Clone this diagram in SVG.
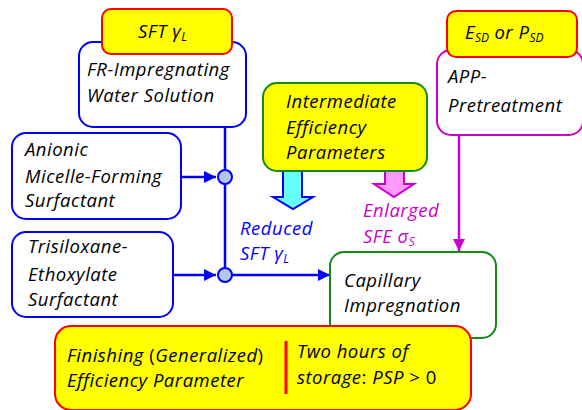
<svg xmlns="http://www.w3.org/2000/svg" width="582" height="410" viewBox="0 0 582 410">
  <defs>
    <style>
      .t { font-family: "Open Sans", "Noto Sans", "Liberation Sans", sans-serif; font-style: italic; font-size: 18.5px; letter-spacing: 0.5px; fill: #000; }
      .up { font-style: normal; }
      .sub { font-size: 12px; letter-spacing: 0; }
      .blue { fill: #0000ff; }
      .mag { fill: #cc00cc; }
      .bx { fill: #fff; stroke-width: 2; }
      .bx-b { stroke: #0000ff; }
      .bx-g { stroke: #138a13; }
      .bx-m { stroke: #cc00cc; }
      .tag { fill: #ffff00; stroke: #ff0000; stroke-width: 2; }
      .link { fill: none; stroke: #0000ff; stroke-width: 2.5; }
      .join { fill: #b4c7e7; stroke: #0000ff; stroke-width: 2; }
    </style>
    <marker id="ah-b" viewBox="0 0 10 10" refX="10" refY="5" markerWidth="5" markerHeight="5" orient="auto" markerUnits="strokeWidth">
      <path d="M0,0 L10,5 L0,10 z" fill="#0000ff"/>
    </marker>
    <marker id="ah-m" viewBox="0 0 10 10" refX="10" refY="5" markerWidth="5" markerHeight="5" orient="auto" markerUnits="strokeWidth">
      <path d="M0,0 L10,5 L0,10 z" fill="#cc00cc"/>
    </marker>
  </defs>

  <rect width="582" height="410" fill="#fff"/>

  <!-- connectors -->
  <g id="connectors">
    <line class="link" x1="225" y1="127" x2="225" y2="275"/>
    <line class="link" x1="181" y1="177" x2="216" y2="177" marker-end="url(#ah-b)"/>
    <line class="link" x1="173" y1="275" x2="216" y2="275" marker-end="url(#ah-b)"/>
    <line class="link" x1="232" y1="275" x2="330" y2="275" marker-end="url(#ah-b)"/>
    <line x1="459" y1="135" x2="459" y2="251" stroke="#cc00cc" stroke-width="2.5" marker-end="url(#ah-m)"/>
    <circle class="join" cx="225" cy="177" r="7"/>
    <circle class="join" cx="225" cy="275" r="7"/>
    <!-- block arrows below the intermediate box -->
    <path d="M283,167 H302 V197 H313 L293,209 L273,197 H283 Z" fill="#66ffff" stroke="#0000ff" stroke-width="2" stroke-linejoin="miter"/>
    <path d="M385,167 H404 V184 H414 L394,197 L374,184 H385 Z" fill="#ff99ff" stroke="#cc00cc" stroke-width="2"/>
    <text class="t blue" x="240" y="235">Reduced</text>
    <text class="t blue" x="240" y="260">SFT γ<tspan class="sub" dy="3">L</tspan></text>
    <text class="t mag" x="363" y="217">Enlarged</text>
    <text class="t mag" x="363" y="243">SFE σ<tspan class="sub" dy="3">S</tspan></text>
  </g>

  <g id="fr-solution">
    <rect class="bx bx-b" x="79" y="42" width="167" height="85" rx="14"/>
    <text class="t" x="87" y="76">FR-Impregnating</text>
    <text class="t" x="87" y="102">Water Solution</text>
  </g>

  <g id="sft-tag">
    <rect class="tag" x="102" y="9" width="130" height="45" rx="9"/>
    <text class="t" x="138" y="38">SFT γ<tspan class="sub" dy="3">L</tspan></text>
  </g>

  <g id="anionic">
    <rect class="bx bx-b" x="12" y="133" width="169" height="86" rx="14"/>
    <text class="t" x="25" y="156">Anionic</text>
    <text class="t" x="25" y="183">Micelle-Forming</text>
    <text class="t" x="25" y="207">Surfactant</text>
  </g>

  <g id="trisiloxane">
    <rect class="bx bx-b" x="12" y="232" width="161" height="85" rx="14"/>
    <text class="t" x="28" y="253">Trisiloxane-</text>
    <text class="t" x="28" y="281">Ethoxylate</text>
    <text class="t" x="28" y="306">Surfactant</text>
  </g>

  <g id="intermediate">
    <rect x="263" y="83" width="164" height="88" rx="14" fill="#ffff00" stroke="#138a13" stroke-width="2"/>
    <text class="t" x="286" y="108">Intermediate</text>
    <text class="t" x="286" y="134">Efficiency</text>
    <text class="t" x="286" y="159">Parameters</text>
  </g>

  <g id="app">
    <rect class="bx bx-m" x="437" y="50" width="146" height="85" rx="14"/>
    <text class="t" x="448" y="83">APP-</text>
    <text class="t" x="448" y="112">Pretreatment</text>
  </g>

  <g id="esd-tag">
    <rect class="tag" x="447" y="11" width="130" height="46" rx="9"/>
    <text class="t" x="465" y="39">E<tspan class="sub" dy="3">SD</tspan><tspan dy="-3"> or P</tspan><tspan class="sub" dy="3">SD</tspan></text>
  </g>

  <g id="capillary">
    <rect class="bx bx-g" x="330" y="252" width="166" height="86" rx="14"/>
    <text class="t" x="344" y="287">Capillary</text>
    <text class="t" x="344" y="312">Impregnation</text>
  </g>

  <g id="finishing">
    <rect class="tag" x="55" y="326" width="416" height="84" rx="16"/>
    <text class="t" x="67" y="362">Finishing <tspan class="up">(</tspan>Generalized<tspan class="up">)</tspan></text>
    <text class="t" x="67" y="387">Efficiency Parameter</text>
    <line x1="286" y1="341" x2="286" y2="394" stroke="#ff0000" stroke-width="3"/>
    <text class="t" x="297" y="358">Two hours of</text>
    <text class="t" x="297" y="384">storage<tspan class="up">:</tspan> PSP <tspan class="up">&gt; 0</tspan></text>
  </g>
</svg>
